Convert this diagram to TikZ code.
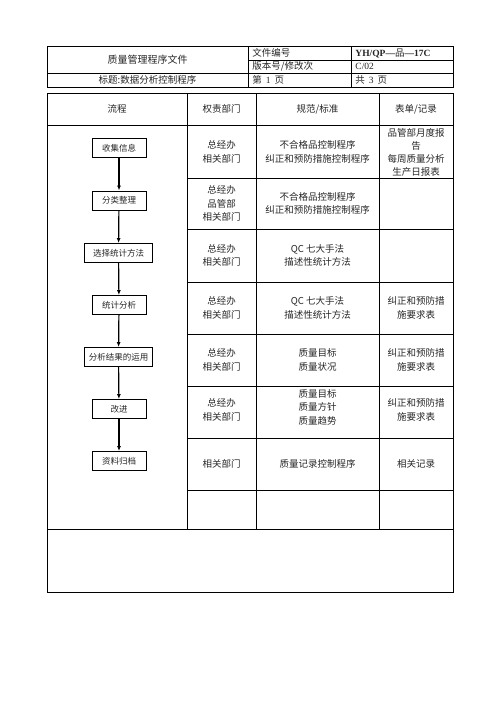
\documentclass[tikz,border=0pt]{standalone}
\usepackage{fontspec}
\setmainfont{Noto Sans CJK SC}
\newfontfamily\lser{Liberation Serif}
\usetikzlibrary{arrows.meta}
\begin{document}
\begin{tikzpicture}[x=1pt,y=-1pt,line width=0.9pt,
  txt/.style={font=\fontsize{9.5}{13.5}\selectfont,align=center,inner sep=0pt,text=black!85},
  hdr/.style={font=\fontsize{9.5}{11}\selectfont,inner sep=0pt,text=black!85},
  flowbox/.style={draw,line width=0.9pt,minimum height=19pt,font=\fontsize{8.5}{10}\selectfont,inner sep=0pt,text=black!85},
  narrow/.style={flowbox,minimum width=54pt},
  wide/.style={flowbox,minimum width=68pt},
  flowarrow/.style={line width=1.2pt,-{Latex[length=5pt,width=4pt]}}]
\useasboundingbox (0,0) rectangle (496,702);
% header table
\draw (47,46) rectangle (453,87);
\draw (248,46) -- (248,87);
\draw (351,46) -- (351,87);
\draw (248,60) -- (453,60);
\draw (47,73) -- (453,73);
\node[hdr,font=\fontsize{10}{12}\selectfont] (h1) at (147.5,59.5) {质量管理程序文件};
\node[hdr] (h2) at (147.5,80) {标题:数据分析控制程序};
\node[hdr,anchor=west] (h3) at (252,53) {文件编号};
\node[hdr,anchor=west] (h4) at (252,66.5) {版本号/修改次};
\node[hdr,anchor=west] (h5) at (252,80) {第\hspace{4pt}{\lser 1}\hspace{4pt}页};
\node[hdr,anchor=west] (h6) at (355,53) {{\lser\bfseries YH/QP—}品{\lser\bfseries —17C}};
\node[hdr,anchor=west] (h7) at (355,66.5) {\lser C/02};
\node[hdr,anchor=west] (h8) at (355,80) {共\hspace{4pt}{\lser 3}\hspace{4pt}页};
% main table
\draw (47,93) rectangle (453,592);
\foreach \x in {187,256,379} \draw (\x,93) -- (\x,529);
\draw (47,125) -- (453,125);
\foreach \y in {178,229,282,334,386,438,490} \draw (187,\y) -- (453,\y);
\draw (47,529) -- (453,529);
% column headers
\node[txt] (c1) at (117,109) {流程};
\node[txt] (c2) at (221.5,109) {权责部门};
\node[txt] (c3) at (317.5,109) {规范/标准};
\node[txt] (c4) at (416,109) {表单/记录};
% row 1
\node[txt] (r1b) at (221.5,152) {总经办\\相关部门};
\node[txt] (r1c) at (317.5,152) {不合格品控制程序\\纠正和预防措施控制程序};
\node[txt,font=\fontsize{9.5}{13}\selectfont] (r1d) at (416,152) {品管部月度报\\告\\每周质量分析\\生产日报表};
% row 2
\node[txt] (r2b) at (221.5,203.5) {总经办\\品管部\\相关部门};
\node[txt] (r2c) at (317.5,203.5) {不合格品控制程序\\纠正和预防措施控制程序};
% row 3
\node[txt] (r3b) at (221.5,255.5) {总经办\\相关部门};
\node[txt] (r3c) at (317.5,255.5) {QC 七大手法\\描述性统计方法};
% row 4
\node[txt] (r4b) at (221.5,308) {总经办\\相关部门};
\node[txt] (r4c) at (317.5,308) {QC 七大手法\\描述性统计方法};
\node[txt] (r4d) at (416,308) {纠正和预防措\\施要求表};
% row 5
\node[txt] (r5b) at (221.5,360) {总经办\\相关部门};
\node[txt] (r5c) at (317.5,360) {质量目标\\质量状况};
\node[txt] (r5d) at (416,360) {纠正和预防措\\施要求表};
% row 6
\node[txt] (r6b) at (221.5,410) {总经办\\相关部门};
\node[txt] (r6c) at (317.5,407) {质量目标\\质量方针\\质量趋势};
\node[txt] (r6d) at (416,410) {纠正和预防措\\施要求表};
% row 7
\node[txt] (r7b) at (221.5,464) {相关部门};
\node[txt] (r7c) at (317.5,464) {质量记录控制程序};
\node[txt] (r7d) at (416,464) {相关记录};
% flow chart
\node[narrow] (f1) at (119,148) {收集信息};
\node[narrow] (f2) at (119,200.5) {分类整理};
\node[wide]   (f3) at (118.5,253) {选择统计方法};
\node[narrow] (f4) at (119,305) {统计分析};
\node[wide]   (f5) at (118.5,357) {分析结果的运用};
\node[narrow] (f6) at (119,409) {改进};
\node[narrow] (f7) at (119,461) {资料归档};
\draw[flowarrow] (f1) -- (f2);
\draw[flowarrow] (f2) -- (f3);
\draw[flowarrow] (f3) -- (f4);
\draw[flowarrow] (f4) -- (f5);
\draw[flowarrow] (f5) -- (f6);
\draw[flowarrow] (f6) -- (f7);
\end{tikzpicture}
\end{document}
